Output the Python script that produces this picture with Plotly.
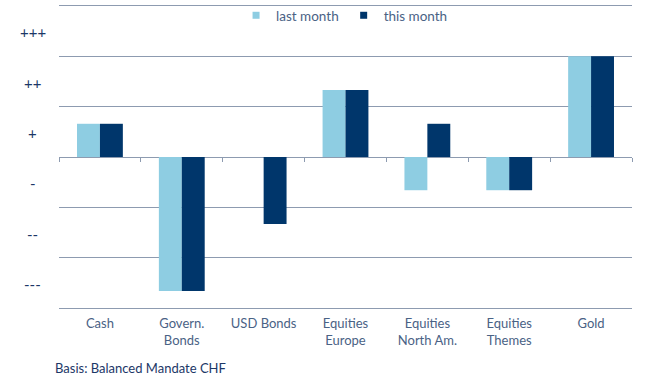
import plotly.graph_objects as go

categories = ["Cash", "Govern.<br>Bonds", "USD Bonds", "Equities<br>Europe",
              "Equities<br>North Am.", "Equities<br>Themes", "Gold"]
last_month = [0.66, -2.66, 0, 1.33, -0.66, -0.66, 2.0]
this_month = [0.66, -2.66, -1.33, 1.33, 0.66, -0.66, 2.0]
y_label_pos = [2.5, 1.5, 0.5, -0.5, -1.5, -2.5]
y_labels = ["+++", "++", "+", "-", "--", "---"]
grid_vals = [-3, -2, -1, 0, 1, 2, 3]

LIGHT = "#8ecde2"
DARK = "#00366b"
YTEXT = "#1c3767"
TEXT = "#4a6285"
GRID = "#8d9bb0"
FONT = "Lato"

xs = list(range(len(categories)))
fig = go.Figure()
fig.add_trace(go.Bar(x=xs, y=last_month, name="last month", showlegend=False,
                     marker=dict(color=LIGHT, line=dict(width=0))))
fig.add_trace(go.Bar(x=xs, y=this_month, name="this month", showlegend=False,
                     marker=dict(color=DARK, line=dict(width=0))))
# legend entries with small square swatches
for nm, col in [("last month", LIGHT), ("this month", DARK)]:
    fig.add_trace(go.Scatter(x=[None], y=[None], mode="markers", name=nm,
                             marker=dict(symbol="square", size=7, color=col)))
# invisible trace to carry the boundary-tick axis
fig.add_trace(go.Scatter(x=[-0.5, 6.5], y=[0, 0], xaxis="x2", mode="lines",
                         line=dict(width=0), showlegend=False, hoverinfo="skip"))

fig.update_layout(
    width=662, height=375,
    margin=dict(l=59, r=30, t=6, b=67, autoexpand=False),
    paper_bgcolor="white", plot_bgcolor="white",
    barmode="group", bargap=0.44, bargroupgap=0,
    font=dict(family=FONT, color=TEXT, size=13),
    legend=dict(orientation="h", x=0.309, xanchor="left", y=1.0, yanchor="top",
                yref="container",
                font=dict(size=13.5, color=TEXT), itemwidth=30,
                bgcolor="rgba(0,0,0,0)", traceorder="normal"),
    xaxis=dict(range=[-0.5, 6.5], tickmode="array", tickvals=xs,
               ticktext=categories, showgrid=False, zeroline=False,
               showline=True, mirror=True, linecolor=GRID, linewidth=1.3,
               ticks="", tickfont=dict(size=13, color=TEXT), ticklabelstandoff=3,
               automargin=False),
    xaxis2=dict(range=[-0.5, 6.5], overlaying="x", anchor="free", position=0.5,
                side="bottom", tickmode="array", tickvals=[i - 0.5 for i in range(len(categories) + 1)],
                ticks="outside", ticklen=4, tickcolor=GRID, tickwidth=1,
                showticklabels=False, showgrid=False, zeroline=False, showline=False,
                automargin=False),
    yaxis=dict(range=[-3, 3], tickmode="array", tickvals=[], showticklabels=False,
               showgrid=False, zeroline=False, showline=False, automargin=False,
               minor=dict(tickmode="array", tickvals=grid_vals, showgrid=True,
                          gridcolor=GRID, gridwidth=1.3)),
)

for v, t in zip(y_label_pos, y_labels):
    fig.add_annotation(x=-0.046, xref="paper", xanchor="center", y=v, yref="y",
                       yanchor="middle", yshift=-1, text=t, showarrow=False,
                       font=dict(size=15, color=YTEXT))

fig.add_annotation(x=-0.01, xref="paper", xanchor="left", y=-0.2, yref="paper",
                   yanchor="middle", text="Basis: Balanced Mandate CHF", showarrow=False,
                   font=dict(size=13, color=YTEXT))

fig.write_html("out.html", post_script="document.body.style.margin='0';",
               config={"displayModeBar": False})
